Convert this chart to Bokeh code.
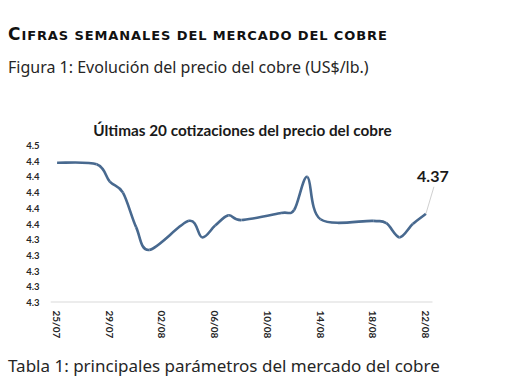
import pandas as pd
from bokeh.plotting import figure
from bokeh.models import Label, FixedTicker, Range1d, Div
from bokeh.layouts import column
from bokeh.embed import file_html
from bokeh.resources import INLINE

# ---- data ----
dates = ["25/07", "28/07", "29/07", "30/07", "31/07", "01/08", "04/08", "05/08",
         "06/08", "07/08", "08/08", "11/08", "12/08", "13/08", "14/08", "18/08",
         "19/08", "20/08", "21/08", "22/08"]
prices = [4.438, 4.436, 4.414, 4.400, 4.356, 4.327, 4.364, 4.343,
          4.358, 4.371, 4.365, 4.374, 4.378, 4.420, 4.366, 4.364,
          4.361, 4.343, 4.360, 4.373]
x_tick_labels = ["25/07", "29/07", "02/08", "06/08", "10/08", "14/08", "18/08", "22/08"]
y_ticks = [4.26, 4.28, 4.30, 4.32, 4.34, 4.36, 4.38, 4.40, 4.42, 4.44, 4.46]
y_tick_labels = ["4.3", "4.3", "4.3", "4.3", "4.3", "4.4", "4.4", "4.4", "4.4", "4.4", "4.5"]
last_label = "4.37"
YEAR = 2025

heading_cap = "C"
heading_rest = "IFRAS SEMANALES DEL MERCADO DEL COBRE"
figure_caption = "Figura 1: Evolución del precio del cobre (US$/lb.)"
chart_title = "Últimas 20 cotizaciones del precio del cobre"
table_caption = "Tabla 1: principales parámetros del mercado del cobre"

# ---- derived positions ----
d = pd.to_datetime([f"{s}/{YEAR}" for s in dates], format="%d/%m/%Y")
x = [float(v) for v in (d - d[0]).days]
tick_d = pd.to_datetime([f"{s}/{YEAR}" for s in x_tick_labels], format="%d/%m/%Y")
x_ticks = [float(v) for v in (tick_d - d[0]).days]

PLOT_W, PLOT_H = 382, 157          # drawn chart area (axis extent)
FW, FH = 402, 217                  # frame incl. room for title / value label
x_lo, x_end = x[0] - 0.5, x[-1] + 0.5
y_lo, y_top = y_ticks[0], y_ticks[-1]
px_per_x = PLOT_W / (x_end - x_lo)
px_per_y = PLOT_H / (y_top - y_lo)
x_hi = x_lo + FW / px_per_x
y_hi = y_lo + FH / px_per_y

p = figure(frame_width=FW, frame_height=FH, output_backend="svg", toolbar_location=None,
           x_range=Range1d(x_lo, x_hi), y_range=Range1d(y_lo, y_hi),
           min_border_left=50, min_border_right=58, min_border_top=0, min_border_bottom=40,
           margin=0)
p.outline_line_color = None
p.grid.visible = False
p.background_fill_color = "white"
p.border_fill_color = "white"

# x axis baseline over the chart's own extent
p.segment(x0=[x_lo], y0=[y_lo], x1=[x_end], y1=[y_lo], line_color="#d9d9d9", line_width=2)

# smooth line (Excel-like) through the points via Bezier segments
n = len(x)
x0s, y0s, x1s, y1s, cx0, cy0, cx1, cy1 = [], [], [], [], [], [], [], []
for i in range(n - 1):
    i0 = max(i - 1, 0)
    i3 = min(i + 2, n - 1)
    x0s.append(x[i]); y0s.append(prices[i])
    x1s.append(x[i + 1]); y1s.append(prices[i + 1])
    cx0.append(x[i] + (x[i + 1] - x[i0]) / 6)
    cy0.append(prices[i] + (prices[i + 1] - prices[i0]) / 6)
    cx1.append(x[i + 1] - (x[i3] - x[i]) / 6)
    cy1.append(prices[i + 1] - (prices[i3] - prices[i]) / 6)
p.bezier(x0=x0s, y0=y0s, x1=x1s, y1=y1s, cx0=cx0, cy0=cy0, cx1=cx1, cy1=cy1,
         line_color="#48698f", line_width=2.6)

# leader line + last value label
p.segment(x0=[x[-1]], y0=[prices[-1]],
          x1=[x[-1] + 8 / px_per_x], y1=[prices[-1] + 27 / px_per_y],
          line_color="#d0d0d0", line_width=1)
p.add_layout(Label(x=x[-1], y=prices[-1], x_offset=7, y_offset=37, text=last_label,
                   text_font="Lato", text_font_style="bold", text_font_size="16px",
                   text_color="#1a1a1a", text_align="center", text_baseline="alphabetic"))

# chart title (inside the frame, above the chart area)
p.add_layout(Label(x=192, y=173, x_units="screen", y_units="screen", text=chart_title,
                   text_font="Lato", text_font_style="bold", text_font_size="15.3px",
                   text_color="#1a1a1a", text_align="center", text_baseline="alphabetic"))

# axes
p.yaxis.ticker = FixedTicker(ticks=y_ticks)
p.yaxis.major_label_overrides = {t: s for t, s in zip(y_ticks, y_tick_labels)}
p.yaxis.axis_line_color = None
p.yaxis.major_tick_line_color = None
p.yaxis.minor_tick_line_color = None
p.yaxis.major_tick_out = 0
p.yaxis.major_label_standoff = 11
p.yaxis.major_label_text_font = "Lato"
p.yaxis.major_label_text_font_style = "bold"
p.yaxis.major_label_text_font_size = "9.5px"
p.yaxis.major_label_text_color = "#262626"

p.xaxis.ticker = FixedTicker(ticks=x_ticks)
p.xaxis.major_label_overrides = {t: s for t, s in zip(x_ticks, x_tick_labels)}
p.xaxis.axis_line_color = None
p.xaxis.major_tick_line_color = None
p.xaxis.minor_tick_line_color = None
p.xaxis.major_tick_out = 0
p.xaxis.major_label_standoff = 8
p.xaxis.major_label_orientation = "vertical"
p.xaxis.major_label_text_font = "Lato"
p.xaxis.major_label_text_font_style = "bold"
p.xaxis.major_label_text_font_size = "10px"
p.xaxis.major_label_text_color = "#262626"

# texts above and below the chart
top_html = (
    '<div style="position:relative;width:510px;height:85px;">'
    '<div style="position:absolute;left:8px;top:26px;line-height:17px;white-space:nowrap;'
    'letter-spacing:0.9px;font-family:\'DejaVu Sans\';font-weight:bold;color:#111;">'
    f'<span style="font-size:17px">{heading_cap}</span>'
    f'<span style="font-size:13px">{heading_rest}</span></div>'
    '<div style="position:absolute;left:8px;top:59px;line-height:16px;white-space:nowrap;'
    f'font-family:\'Noto Sans\';font-size:16px;color:#262626;">{figure_caption}</div>'
    '</div>'
)
bottom_html = (
    '<div style="position:relative;width:510px;height:40px;">'
    '<div style="position:absolute;left:8px;top:15px;line-height:17px;white-space:nowrap;'
    f'font-family:\'Noto Sans\';font-size:17px;color:#262626;">{table_caption}</div>'
    '</div>'
)
top_div = Div(text=top_html, width=510, height=85, margin=0)
bottom_div = Div(text=bottom_html, width=510, height=40, margin=0)

layout = column(top_div, p, bottom_div, spacing=0, margin=0)
open("out.html", "w").write(file_html(layout, INLINE))
